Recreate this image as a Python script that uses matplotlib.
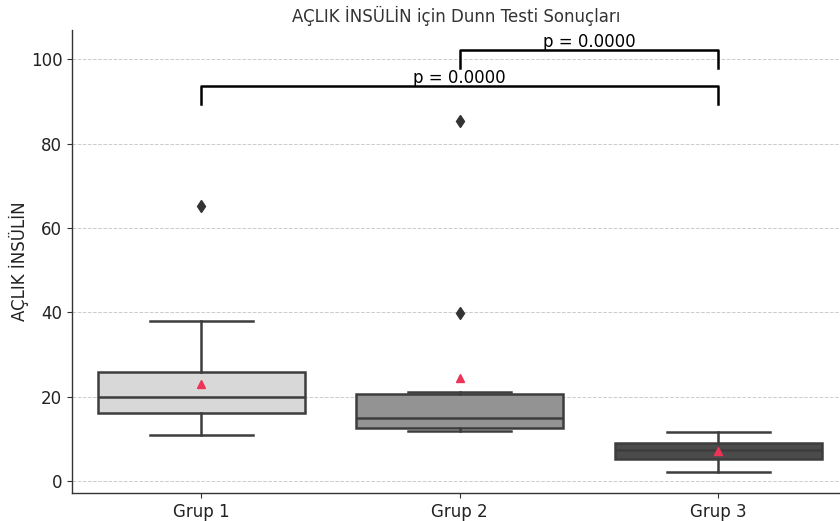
import matplotlib as mpl
import matplotlib.pyplot as plt

mpl.rcParams['font.family'] = 'DejaVu Sans'
mpl.rcParams['axes.spines.top'] = False
mpl.rcParams['axes.spines.right'] = False

# values
groups = ['Grup 1', 'Grup 2', 'Grup 3']
q1 = [16.1, 12.6, 5.3]
medians = [19.9, 14.9, 7.3]
q3 = [25.8, 20.6, 9.0]
whisker_low = [10.9, 11.8, 2.1]
whisker_high = [37.9, 21.0, 11.7]
means = [23.0, 24.4, 7.1]
outliers = [[65.2], [85.3, 39.8], []]
box_colors = ['#d8d8d8', '#939393', '#4b4b4b']

# Dunn test pairs: (i, j, bracket height, p)
pairs = [(0, 2, 93.6, 0.0), (1, 2, 102.1, 0.0)]

line_col = '#3d3d3d'

fig = plt.figure(figsize=(8.4, 5.21), dpi=100)
ax = fig.add_axes([0.0857, 0.054, 0.914, 0.888])

stats = []
for i in range(len(groups)):
    stats.append(dict(label=groups[i], q1=q1[i], med=medians[i], q3=q3[i],
                      whislo=whisker_low[i], whishi=whisker_high[i],
                      mean=means[i], fliers=outliers[i]))

bp = ax.bxp(stats, positions=range(len(groups)), widths=0.8, patch_artist=True,
            showmeans=True,
            boxprops=dict(edgecolor=line_col, linewidth=1.8),
            medianprops=dict(color=line_col, linewidth=1.8),
            whiskerprops=dict(color=line_col, linewidth=1.8),
            capprops=dict(color=line_col, linewidth=1.8),
            capwidths=0.4,
            meanprops=dict(marker='^', markerfacecolor='#ee3357', markeredgecolor='#ee3357',
                           markersize=6),
            flierprops=dict(marker='d', markerfacecolor='#333333', markeredgecolor='#333333',
                            markersize=6.5))
for patch, c in zip(bp['boxes'], box_colors):
    patch.set_facecolor(c)

# significance brackets
for i, j, h, p in pairs:
    ax.plot([i, i, j, j], [h - 4.2, h, h, h - 4.2], color='black', linewidth=1.8)
    ax.text((i + j) / 2, h - 0.2, f'p = {p:.4f}', ha='center', va='bottom',
            fontsize=12, color='black')

ax.set_xlim(-0.5, 2.47)
ax.set_ylim(-2.8, 106.9)
ax.set_yticks([0, 20, 40, 60, 80, 100])
ax.set_xticks(range(len(groups)))
ax.set_xticklabels(groups)
ax.yaxis.grid(True, linestyle='--', color='#cccccc', linewidth=0.7)
ax.set_axisbelow(True)
ax.tick_params(labelsize=12, colors='#333333', labelcolor='#222222')
for s in ['left', 'bottom']:
    ax.spines[s].set_color('#333333')
    ax.spines[s].set_linewidth(1.0)

ax.set_ylabel('AÇLIK İNSÜLİN', fontsize=12, color='#222222', labelpad=1)
ax.set_title('AÇLIK İNSÜLİN için Dunn Testi Sonuçları', fontsize=12, color='#333333', pad=6)

fig.savefig('out.png', dpi=100)
